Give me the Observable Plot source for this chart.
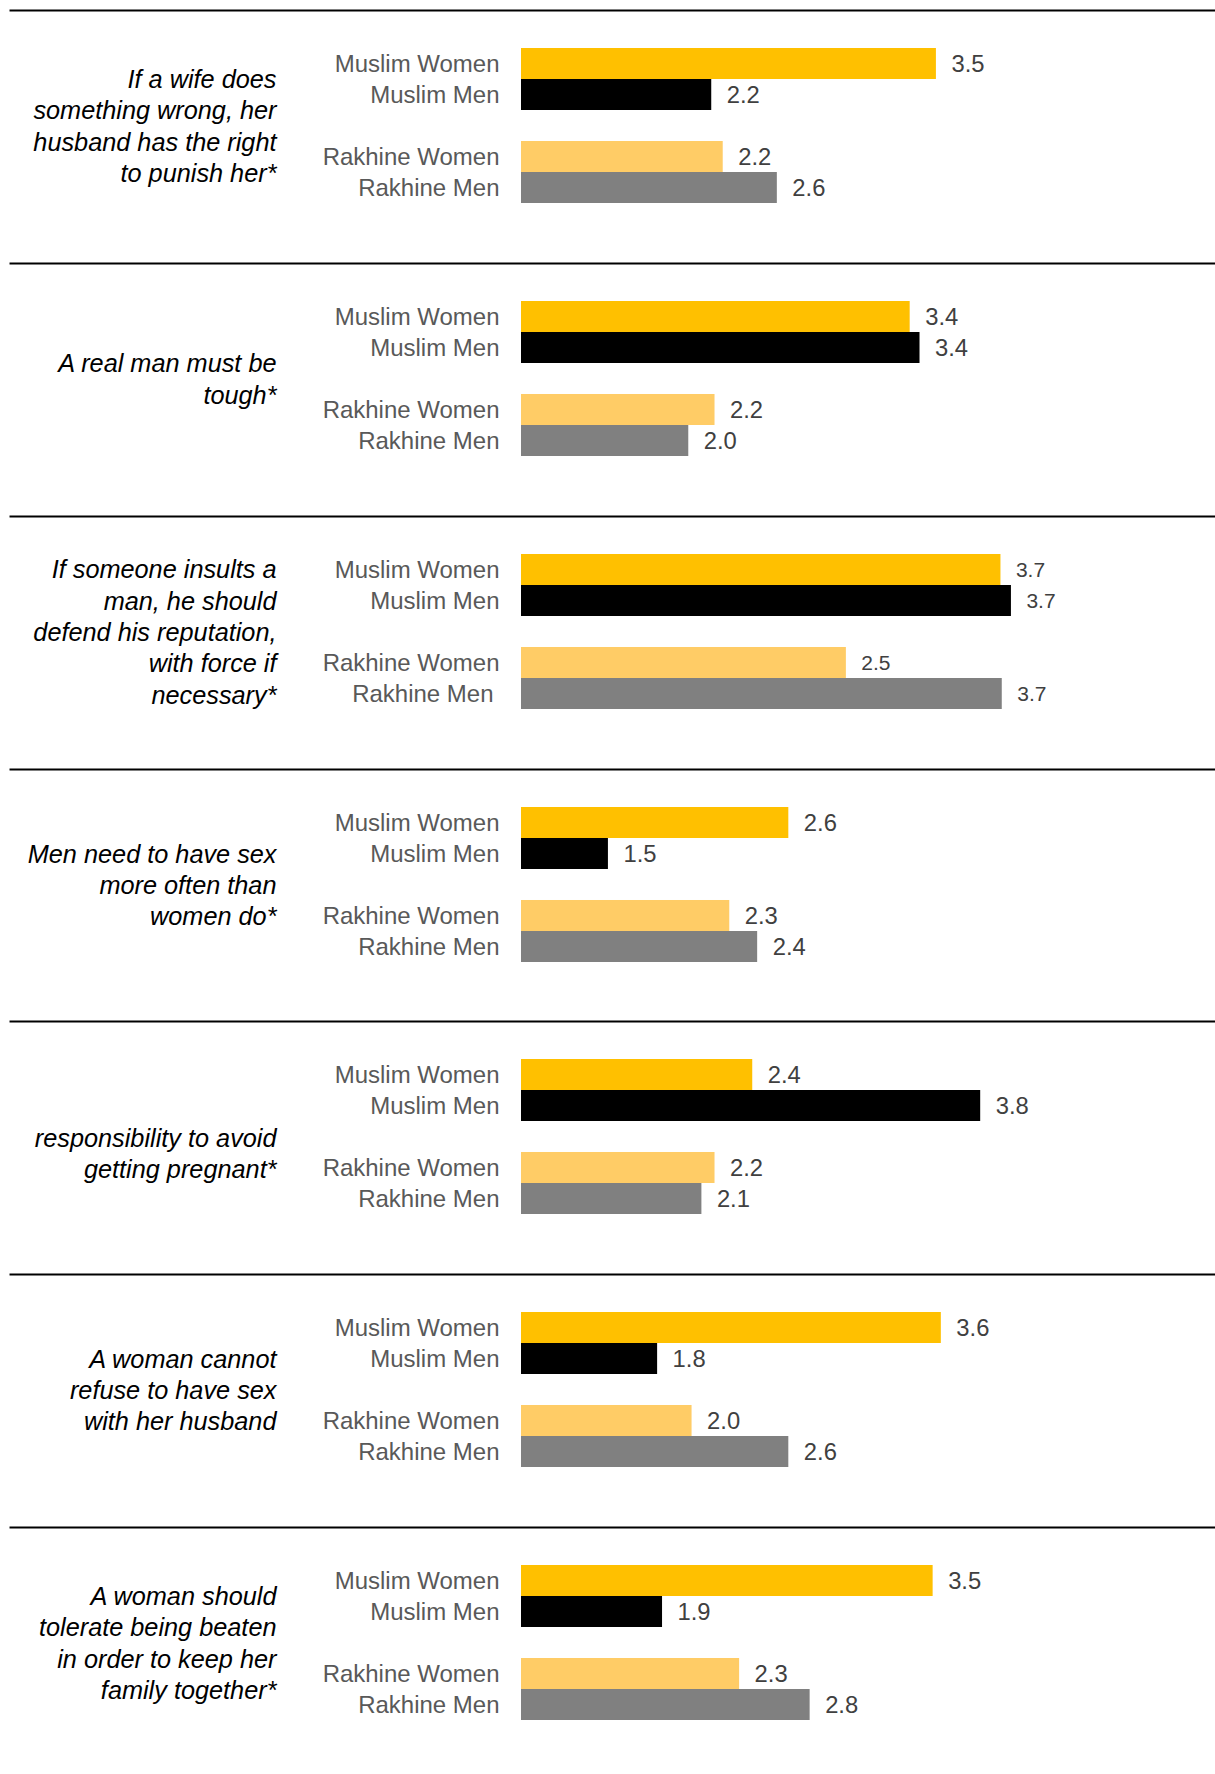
<!DOCTYPE html>
<html>
<head>
<meta charset="utf-8">
<script src="https://cdn.jsdelivr.net/npm/d3@7"></script>
<script src="https://cdn.jsdelivr.net/npm/@observablehq/plot@0.6"></script>
<style>
  html, body { margin: 0; padding: 0; background: #ffffff; }
  #chart { padding-top: 9px; width: 1215px; }
  #chart svg { display: block; }
</style>
</head>
<body>
<div id="chart"></div>
<script>
// ---- data ----
const groups = ["Muslim Women", "Muslim Men", "Rakhine Women", "Rakhine Men"];
const groupColors = ["#FFC000", "#000000", "#FFCC66", "#808080"];

const questions = [
  "If a wife does\nsomething wrong, her\nhusband has the right\nto punish her*",
  "A real man must be\ntough*",
  "If someone insults a\nman, he should\ndefend his reputation,\nwith force if\nnecessary*",
  "Men need to have sex\nmore often than\nwomen do*",
  "responsibility to avoid\ngetting pregnant*",
  "A woman cannot\nrefuse to have sex\nwith her husband",
  "A woman should\ntolerate being beaten\nin order to keep her\nfamily together*"
];

const muslimWomen  = [3.53, 3.37, 3.66, 2.63, 2.41, 3.56, 3.51];
const muslimMen    = [2.16, 3.43, 3.74, 1.53, 3.80, 1.83, 1.86];
const rakhineWomen = [2.23, 2.18, 2.48, 2.27, 2.18, 2.04, 2.33];
const rakhineMen   = [2.56, 2.02, 3.67, 2.44, 2.10, 2.63, 2.76];

// axis start of each panel's value scale (each panel was its own chart)
const axisBase = [1, 1, 0, 1, 1, 1, 1];
const axisMax = 4;

// ---- layout ----
const FONT = "'Liberation Sans', Arial, Helvetica, sans-serif";
const SPACER = " ";
const yDomain = [groups[0], groups[1], SPACER, groups[2], groups[3]];
const series = [muslimWomen, muslimMen, rakhineWomen, rakhineMen];
const barStart = 521;
const panelHeight = 252.85;
const pxPerUnit = base => (base === 1 ? 164 : 131);
const valueFont = i => (i === 2 ? 21 : 23.8);
const questionShift = i => (i === 4 ? 15.5 : -1);
const rakhineMenShift = i => (i === 2 ? -6 : 0);

const chart = document.getElementById("chart");

questions.forEach((q, i) => {
  const data = groups.map((g, j) => ({group: g, value: series[j][i]}));
  const base = axisBase[i];
  const ppu = pxPerUnit(base);
  const fmt = d3.format(".1f");

  const svg = Plot.plot({
    width: 1215,
    height: panelHeight,
    marginTop: 0,
    marginBottom: 0,
    marginLeft: 9,
    marginRight: 0,
    style: {fontFamily: FONT, background: "#ffffff", overflow: "visible"},
    x: {domain: [base, axisMax], range: [barStart, barStart + (axisMax - base) * ppu], axis: null},
    y: {domain: yDomain, range: [38.5, 193.5], padding: 0, axis: null},
    color: {domain: groups, range: groupColors},
    marks: [
      // divider line at top of panel
      Plot.frame({fill: "#000000", stroke: "none", insetBottom: panelHeight - 2}),
      // bars
      Plot.barX(data, {x1: base, x2: "value", y: "group", fill: "group"}),
      // value labels
      Plot.text(data, {
        x: "value", y: "group", text: d => fmt(d.value),
        dx: 15, textAnchor: "start", fill: "#404040", fontSize: valueFont(i)
      }),
      // category labels
      Plot.text(data.filter(d => d.group !== "Rakhine Men"), {
        x: base, y: "group", text: "group",
        dx: -22, textAnchor: "end", fill: "#595959", fontSize: 24
      }),
      Plot.text(data.filter(d => d.group === "Rakhine Men"), {
        x: base, y: "group", text: "group",
        dx: -22 + rakhineMenShift(i), textAnchor: "end", fill: "#595959", fontSize: 24
      }),
      // question text
      Plot.text([q], {
        y: () => SPACER, frameAnchor: "left", dx: 267, dy: questionShift(i),
        text: d => d, textAnchor: "end", lineAnchor: "middle",
        fontStyle: "italic", fontSize: 25.3, lineHeight: 1.237, fill: "#000000"
      })
    ]
  });
  chart.appendChild(svg);
});
</script>
</body>
</html>
